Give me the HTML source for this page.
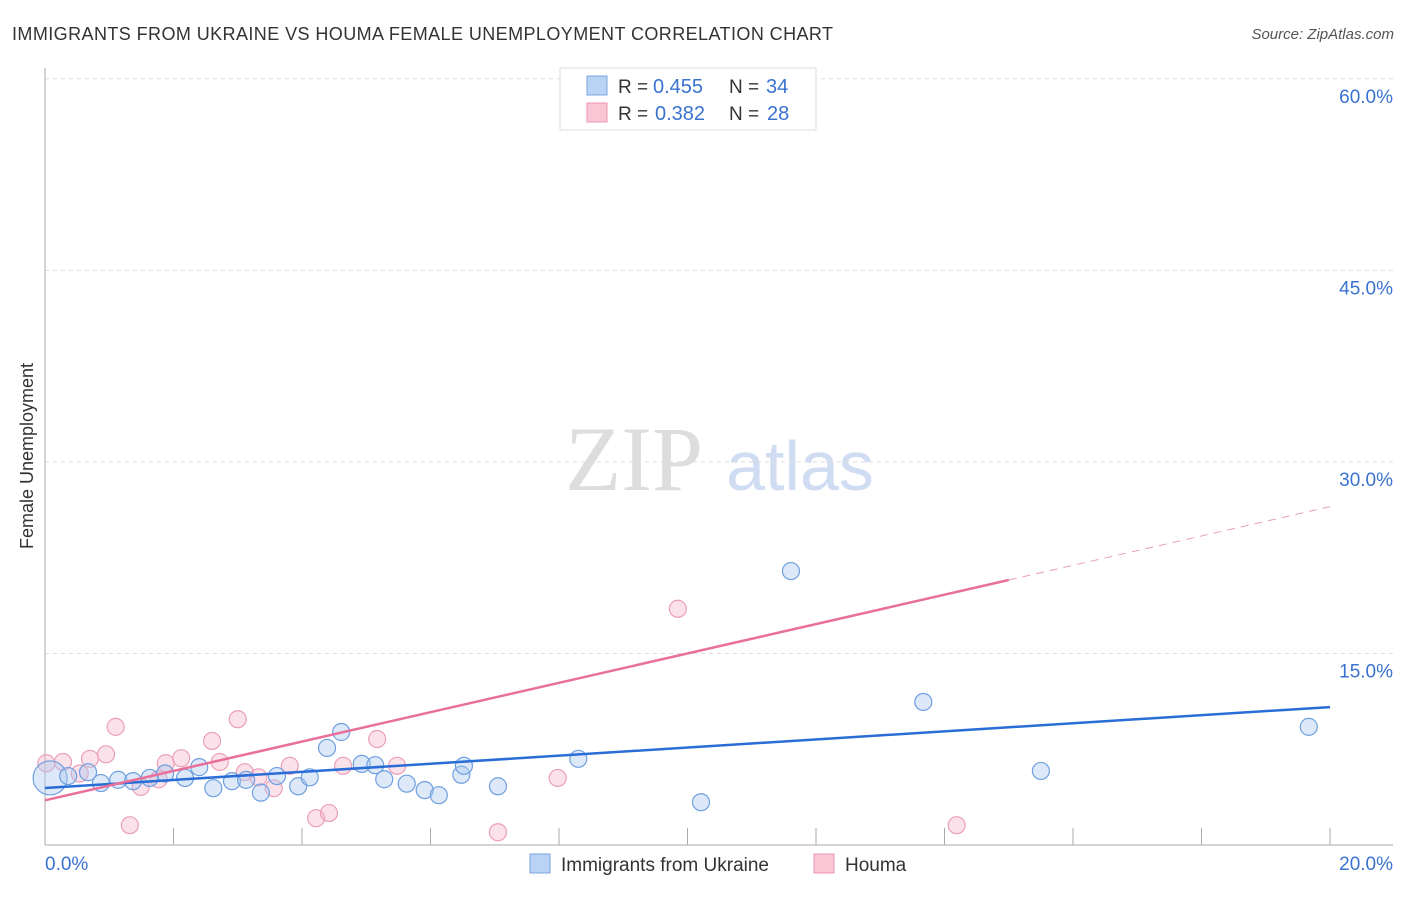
<!DOCTYPE html>
<html><head><meta charset="utf-8"><style>
body{margin:0;background:#fff;font-family:"Liberation Sans",sans-serif}
svg text{font-family:"Liberation Sans",sans-serif}
</style></head><body>
<svg id="chart" width="1406" height="892">
<text x="12" y="40" font-size="18" fill="#333" textLength="821">IMMIGRANTS FROM UKRAINE VS HOUMA FEMALE UNEMPLOYMENT CORRELATION CHART</text>
<text x="1394" y="39" font-size="15" fill="#555" font-style="italic" text-anchor="end">Source: ZipAtlas.com</text>
<text x="634" y="490" font-size="92" fill="#ddd" text-anchor="middle" style="font-family:'Liberation Serif',serif">ZIP</text>
<text x="800" y="490" font-size="70" fill="#cfdcf2" text-anchor="middle">atlas</text>
<text x="33" y="456" font-size="18" fill="#333" text-anchor="middle" transform="rotate(-90 33 456)">Female Unemployment</text>
<g id="grid"></g><g id="axes"></g><g id="pts"></g><g id="lines"></g>
<g>
<rect x="560" y="68" width="256" height="62" fill="#fff" stroke="#ddd"/>
<rect x="587" y="76" width="20" height="19" fill="#b9d3f5" stroke="#7aa6e0"/>
<rect x="587" y="103" width="20" height="19" fill="#f9c6d5" stroke="#eb97b1"/>
<text x="618" y="93" font-size="19" fill="#333">R =</text>
<text x="653" y="93" font-size="20" fill="#3a72d0">0.455</text>
<text x="729" y="93" font-size="19" fill="#333">N =</text>
<text x="766" y="93" font-size="20" fill="#3a72d0">34</text>
<text x="618" y="120" font-size="19" fill="#333">R =</text>
<text x="655" y="120" font-size="20" fill="#3a72d0">0.382</text>
<text x="729" y="120" font-size="19" fill="#333">N =</text>
<text x="767" y="120" font-size="20" fill="#3a72d0">28</text>
</g>
<g>
<rect x="530" y="854" width="20" height="19" fill="#b9d3f5" stroke="#7aa6e0"/>
<text x="561" y="871" font-size="19" fill="#333">Immigrants from Ukraine</text>
<rect x="814" y="854" width="20" height="19" fill="#f9c6d5" stroke="#eb97b1"/>
<text x="845" y="871" font-size="19" fill="#333">Houma</text>
</g>
</svg>
<script>
const blueX=[0.08,0.36,0.67,0.87,1.14,1.37,1.63,1.87,2.18,2.40,2.62,2.91,3.13,3.36,3.61,3.94,4.12,4.39,4.61,4.93,5.14,5.28,5.63,5.91,6.13,6.48,6.52,7.05,8.30,10.21,11.61,13.67,15.50,19.67];
const blueY=[5.25,5.4,5.7,4.85,5.1,5.0,5.25,5.6,5.25,6.1,4.45,5.0,5.1,4.1,5.4,4.6,5.3,7.6,8.85,6.35,6.25,5.15,4.8,4.3,3.9,5.5,6.2,4.6,6.75,3.35,21.45,11.2,5.8,9.25];
const pinkX=[0.02,0.28,0.54,0.70,0.95,1.10,1.32,1.49,1.77,1.88,2.12,2.60,2.72,3.00,3.11,3.32,3.56,3.81,4.22,4.42,4.64,5.17,5.48,7.05,7.98,9.85,10.82,14.19];
const pinkY=[6.4,6.5,5.6,6.75,7.1,9.25,1.55,4.55,5.15,6.4,6.8,8.15,6.5,9.85,5.7,5.3,4.45,6.2,2.1,2.5,6.2,8.3,6.2,1.0,5.25,18.5,57.8,1.55];
const yTicks=[15,30,45,60];
const xTickVals=[0,2,4,6,8,10,12,14,16,18,20];
const blueTrend=[4.46,10.8];
const pinkTrend=[3.5,26.5];
const pinkSolidEnd=15.0;
const NS='http://www.w3.org/2000/svg';
const X=v=>45+v*64.25, Y=v=>845-v*12.77;
function mk(t,a,p){const e=document.createElementNS(NS,t);for(const k in a)e.setAttribute(k,a[k]);document.getElementById(p).appendChild(e);return e;}
yTicks.forEach(t=>{
 const l=mk('line',{x1:45,x2:1393,y1:Y(t),y2:Y(t),stroke:'#ddd','stroke-dasharray':'4,4'},'grid');
 
 
 const tx=mk('text',{x:1393,y:Y(t)+24,'font-size':19,fill:'#3a72d0','text-anchor':'end'},'grid');
 tx.textContent=t.toFixed(1)+'%';
 
 
});
let a=mk('line',{x1:45,x2:45,y1:68,y2:845,stroke:'#aaa'},'axes');


a=mk('line',{x1:45,x2:1393,y1:845,y2:845,stroke:'#aaa'},'axes');


xTickVals.forEach(t=>{if(t>0){const l=mk('line',{x1:X(t),x2:X(t),y1:828,y2:845,stroke:'#aaa'},'axes');
 
 }});
let t0=mk('text',{x:45,y:870,'font-size':19,fill:'#3a72d0'},'axes');t0.textContent='0.0%';


t0=mk('text',{x:1393,y:870,'font-size':19,fill:'#3a72d0','text-anchor':'end'},'axes');t0.textContent='20.0%';


pinkX.forEach((x,i)=>{const c=mk('circle',{cx:X(x),cy:Y(pinkY[i]),r:8.5,fill:'rgba(246,180,200,0.4)',stroke:'#eba0b8','stroke-width':1.2},'pts');
 
 });
blueX.forEach((x,i)=>{const c=mk('circle',{cx:X(x),cy:Y(blueY[i]),r:i==0?17:8.5,fill:'rgba(170,200,240,0.4)',stroke:'#6f9fe0','stroke-width':1.2},'pts');
 
 });
let l=mk('line',{x1:X(0),y1:Y(blueTrend[0]),x2:X(20),y2:Y(blueTrend[1]),stroke:'#2a6dd6','stroke-width':2.5},'lines');


const pv=x=>pinkTrend[0]+(pinkTrend[1]-pinkTrend[0])*x/20;
l=mk('line',{x1:X(0),y1:Y(pv(0)),x2:X(pinkSolidEnd),y2:Y(pv(pinkSolidEnd)),stroke:'#e8709a','stroke-width':2.5},'lines');


l=mk('line',{x1:X(pinkSolidEnd),y1:Y(pv(pinkSolidEnd)),x2:X(20),y2:Y(pv(20)),stroke:'#e8a0b8','stroke-width':1,'stroke-dasharray':'8,6'},'lines');


</script>
</body></html>
